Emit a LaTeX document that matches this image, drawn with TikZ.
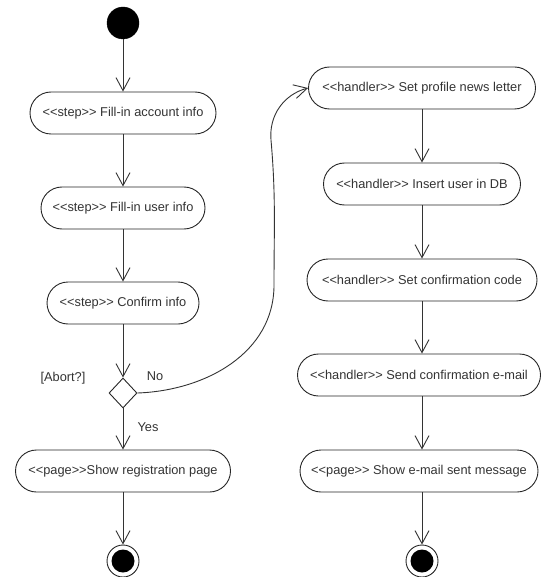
\documentclass[tikz,border=0pt]{standalone}
\usepackage{fontspec}
\setmainfont{Liberation Sans}[Ligatures=TeXOff]
\usetikzlibrary{arrows.meta,shapes.geometric}
\begin{document}
\begin{tikzpicture}[x=1pt,y=-1pt,
  act/.style={draw=black!85, line width=0.9pt, rounded corners=21pt, minimum height=42pt, inner sep=0pt, font=\fontsize{12.8}{14}\selectfont, text=black!80},
  flow/.style={draw=black!80, line width=0.9pt, -{Straight Barb[length=13pt,width=14pt,line width=0.9pt]}},
  lbl/.style={font=\fontsize{12.8}{14}\selectfont, text=black!80, inner sep=0pt}]
\useasboundingbox (0,0) rectangle (541,577);
% left column
\node[circle, fill=black, draw=black, minimum size=32pt, inner sep=0pt] (start) at (123,23) {};
\node[act, minimum width=186pt] (a1) at (123,113) {<<step>> Fill-in account info};
\node[act, minimum width=164pt] (a2) at (123,208) {<<step>> Fill-in user info};
\node[act, minimum width=152pt] (a3) at (123,303) {<<step>> Confirm info};
\node[draw=black!85, line width=0.9pt, shape=diamond, minimum width=28pt, minimum height=30pt, inner sep=0pt] (d) at (123,393) {};
\node[lbl] (abort) at (63,378) {[Abort?]};
\node[lbl] (no) at (155,376) {No};
\node[lbl] (yes) at (148,427) {Yes};
\node[act, minimum width=215pt] (a4) at (123,471) {<<page>>Show registration page};
\node[circle, draw=black!85, line width=0.9pt, minimum size=32pt, inner sep=0pt] (end1) at (123,561) {};
\node[circle, fill=black, minimum size=23pt, inner sep=0pt] (end1in) at (123,561) {};
% right column
\node[act, minimum width=227pt] (b1) at (422,88) {<<handler>> Set profile news letter};
\node[act, minimum width=197pt] (b2) at (422,184) {<<handler>> Insert user in DB};
\node[act, minimum width=230pt] (b3) at (422,280) {<<handler>> Set confirmation code};
\node[act, minimum width=243pt] (b4) at (419,375) {<<handler>> Send confirmation e-mail};
\node[act, minimum width=238pt] (b5) at (419,471) {<<page>> Show e-mail sent message};
\node[circle, draw=black!85, line width=0.9pt, minimum size=32pt, inner sep=0pt] (end2) at (422,561) {};
\node[circle, fill=black, minimum size=23pt, inner sep=0pt] (end2in) at (422,561) {};
\coordinate (c1) at (274,285);
\coordinate (c2) at (271,140);
% connectors
\draw[flow] (start) -- (a1);
\draw[flow] (a1) -- (a2);
\draw[flow] (a2) -- (a3);
\draw[flow] (a3) -- (d.north);
\draw[flow] (d.south) -- (a4);
\draw[flow] (a4) -- (end1);
\draw[flow] (d.east) to[out=2,in=-90] (c1) to[out=90,in=-85] (c2) to[out=95,in=195] (b1.west);
\draw[flow] (b1.south -| 422,0) -- (b2.north -| 422,0);
\draw[flow] (b2.south -| 422,0) -- (b3.north -| 422,0);
\draw[flow] (b3.south -| 422,0) -- (b4.north -| 422,0);
\draw[flow] (b4.south -| 422,0) -- (b5.north -| 422,0);
\draw[flow] (b5.south -| 422,0) -- (end2);
\end{tikzpicture}
\end{document}
